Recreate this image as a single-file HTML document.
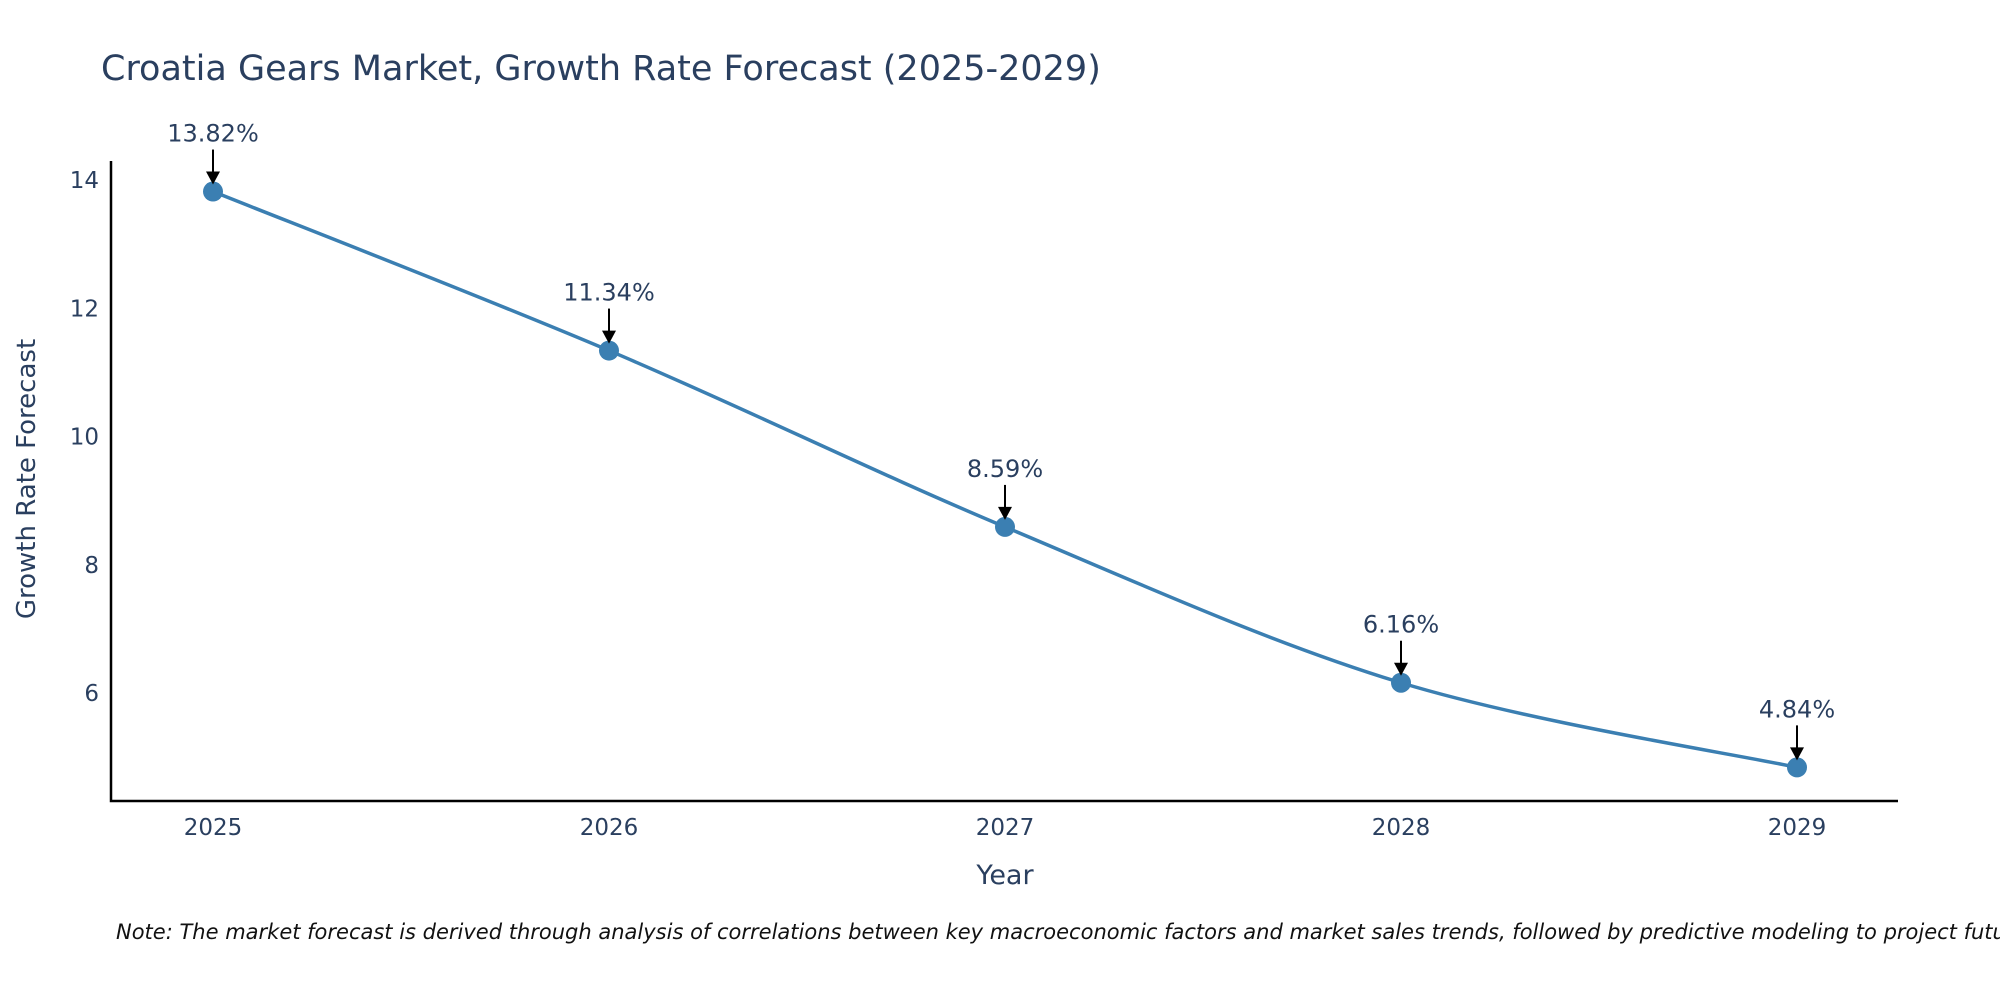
<!DOCTYPE html>
<html><head><meta charset="utf-8"><style>
body{margin:0;background:#fff;}
svg text{font-family:"DejaVu Sans","Liberation Sans",sans-serif;fill:#2a3f5f;}
</style></head><body>
<svg width="2000" height="1000" xmlns="http://www.w3.org/2000/svg">
<text x="101" y="80" font-size="35">Croatia Gears Market, Growth Rate Forecast (2025-2029)</text>
<g id="plot"></g>
<text x="1005" y="884" font-size="27" text-anchor="middle">Year</text>
<text x="35" y="479" font-size="26" text-anchor="middle" transform="rotate(-90 35 479)">Growth Rate Forecast</text>
<text x="116" y="939" font-size="21" font-style="italic" style="fill:#111">Note: The market forecast is derived through analysis of correlations between key macroeconomic factors and market sales trends, followed by predictive modeling to project future sales</text>
</svg>
<script>
const years=[2025,2026,2027,2028,2029];
const values=[13.82,11.34,8.59,6.16,4.84];
const labels=["13.82%","11.34%","8.59%","6.16%","4.84%"];
const yTicks=[6,8,10,12,14];
const NS="http://www.w3.org/2000/svg";
const g=document.getElementById('plot');
const x=v=>213+(v-2025)*(1797-213)/4;
const y=v=>693-(v-6)*(693-180)/8;
function mk(t,a){const e=document.createElementNS(NS,t);for(const k in a)e.setAttribute(k,a[k]);g.appendChild(e);return e;}
const ax=mk('path',{d:'M111,161 V801 H1898',stroke:'#000','stroke-width':2.5,fill:'none'});


yTicks.forEach(t=>{const e=mk('text',{x:99,y:y(t)+8,'font-size':23,'text-anchor':'end'});e.textContent=t;

});
years.forEach(t=>{const e=mk('text',{x:x(t),y:835,'font-size':23,'text-anchor':'middle'});e.textContent=t;

});
const P=years.map((yr,i)=>[x(yr),y(values[i])]);
let d='M'+P[0][0]+','+P[0][1];
for(let i=0;i<P.length-1;i++){const p0=P[i-1]||P[i],p1=P[i],p2=P[i+1],p3=P[i+2]||P[i+1];const s=1/6;
d+=` C${p1[0]+(p2[0]-p0[0])*s},${p1[1]+(p2[1]-p0[1])*s} ${p2[0]-(p3[0]-p1[0])*s},${p2[1]-(p3[1]-p1[1])*s} ${p2[0]},${p2[1]}`;}
const ln=mk('path',{d:d,stroke:'#3b7fb2','stroke-width':3.5,fill:'none'});


P.forEach((p,i)=>{
const c=mk('circle',{cx:p[0],cy:p[1],r:10,fill:'#3b7fb2'});


const a=mk('line',{x1:p[0],y1:p[1]-42,x2:p[0],y2:p[1]-18,stroke:'#000','stroke-width':2});


const h=mk('path',{d:`M${p[0]-7},${p[1]-20} L${p[0]+7},${p[1]-20} L${p[0]},${p[1]-7} Z`,fill:'#000'});


const t=mk('text',{x:p[0],y:p[1]-50,'font-size':24,'text-anchor':'middle'});t.textContent=labels[i];


});
</script>
</body></html>
